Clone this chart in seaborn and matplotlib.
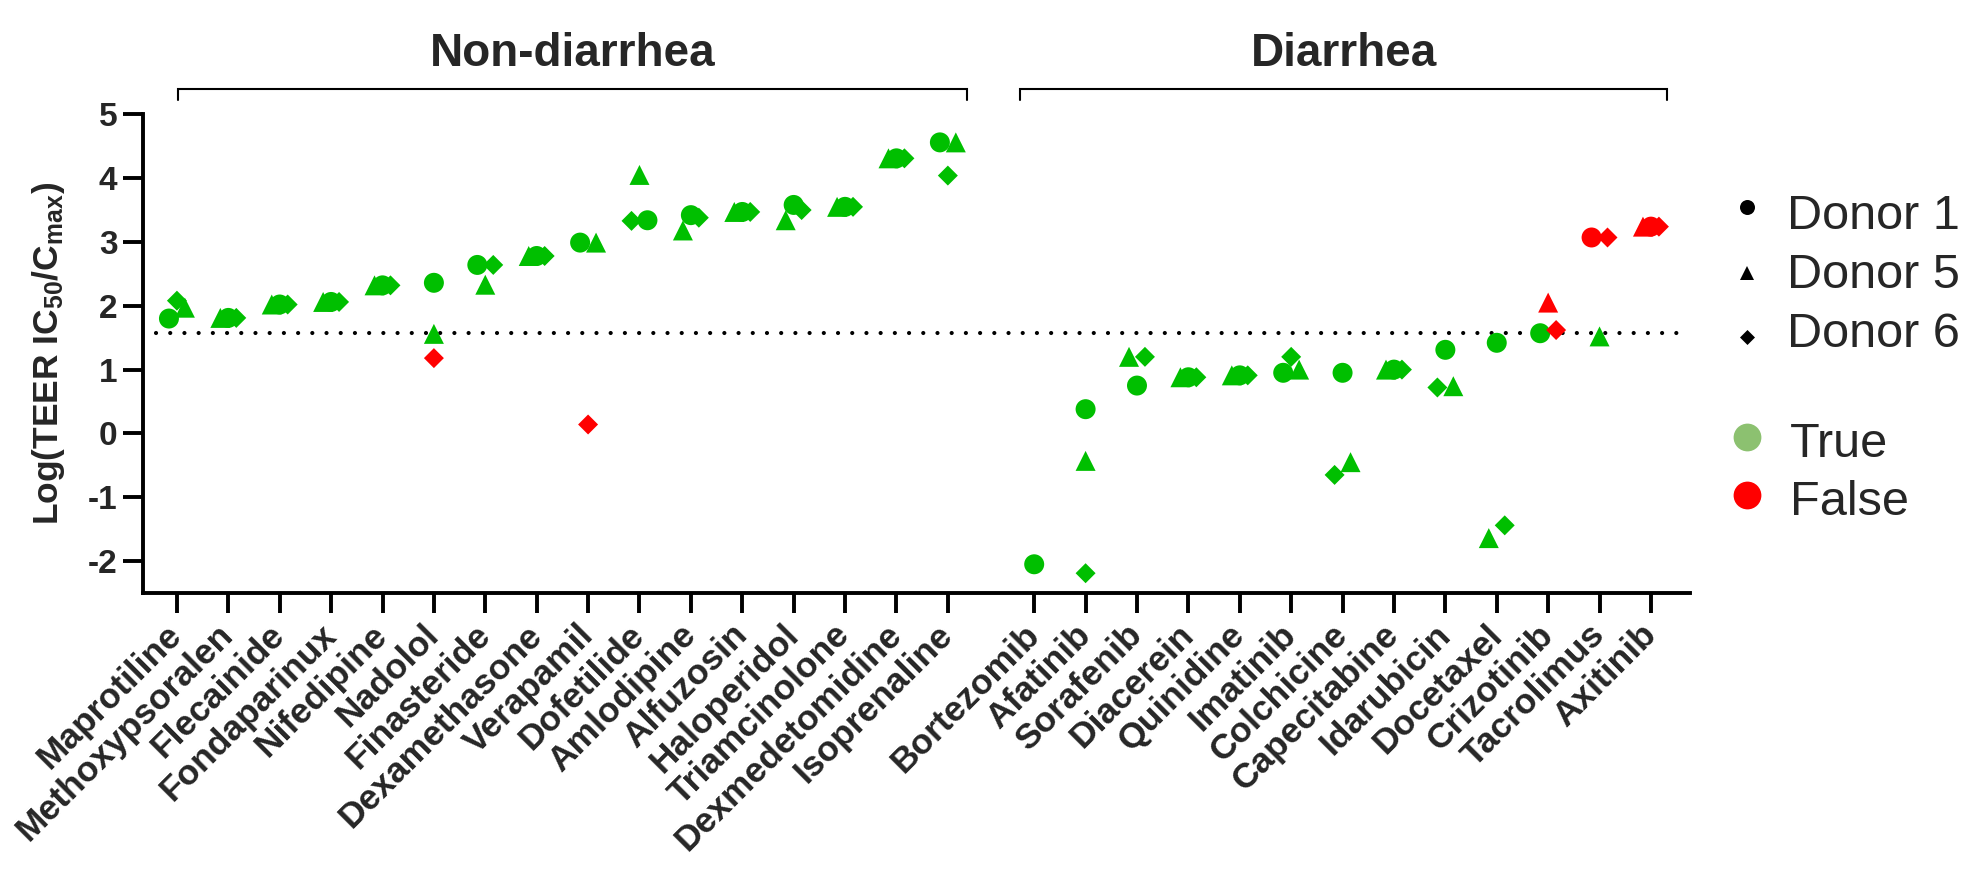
import numpy as np
import pandas as pd
import matplotlib
matplotlib.use("Agg")
import matplotlib.pyplot as plt
import matplotlib.transforms as mtransforms
from matplotlib.path import Path
from matplotlib.lines import Line2D
import seaborn as sns

nan = np.nan

# ---------------- data ----------------
non_diarrhea = ["Maprotiline", "Methoxypsoralen", "Flecainide", "Fondaparinux", "Nifedipine",
                "Nadolol", "Finasteride", "Dexamethasone", "Verapamil", "Dofetilide",
                "Amlodipine", "Alfuzosin", "Haloperidol", "Triamcinolone", "Dexmedetomidine",
                "Isoprenaline"]
diarrhea = ["Bortezomib", "Afatinib", "Sorafenib", "Diacerein", "Quinidine", "Imatinib",
            "Colchicine", "Capecitabine", "Idarubicin", "Docetaxel", "Crizotinib",
            "Tacrolimus", "Axitinib"]

donor1 = [1.80, 1.81, 2.02, 2.06, 2.32, 2.36, 2.64, 2.78, 2.99, 3.34, 3.42, 3.47, 3.58, 3.55, 4.31, 4.56,
          -2.05, 0.38, 0.75, 0.88, 0.91, 0.95, 0.95, 1.00, 1.31, 1.42, 1.57, 3.07, 3.24]
donor5 = [1.97, 1.81, 2.02, 2.06, 2.32, 1.56, 2.33, 2.78, 2.99, 4.05, 3.18, 3.47, 3.34, 3.55, 4.31, 4.56,
          nan, -0.43, 1.20, 0.88, 0.91, 1.00, -0.45, 1.00, 0.74, -1.64, 2.05, 1.52, 3.24]
donor6 = [2.08, 1.81, 2.02, 2.06, 2.32, 1.18, 2.64, 2.78, 0.14, 3.33, 3.38, 3.47, 3.50, 3.55, 4.31, 4.04,
          nan, -2.19, 1.20, 0.88, 0.91, 1.20, -0.65, 1.00, 0.72, -1.44, 1.62, 3.07, 3.24]

# drugs whose value for a donor is classified "False" (red)
false_donor1 = ["Tacrolimus", "Axitinib"]
false_donor5 = ["Crizotinib", "Axitinib"]
false_donor6 = ["Nadolol", "Verapamil", "Crizotinib", "Tacrolimus", "Axitinib"]

threshold = 1.57
y_ticks = [-2, -1, 0, 1, 2, 3, 4, 5]
group_titles = ["Non-diarrhea", "Diarrhea"]
donor_names = ["Donor 1", "Donor 5", "Donor 6"]
result_names = ["True", "False"]

# ---------------- styling ----------------
GREEN = "#00BF00"
RED = "#FF0000"
LEGEND_TRUE = "#8CC170"
W, H = 1978, 893

sns.set_style("ticks")
plt.rcParams["font.family"] = ["Liberation Sans", "DejaVu Sans"]
plt.rcParams["mathtext.fontset"] = "custom"
plt.rcParams["mathtext.rm"] = "Liberation Sans:bold"
plt.rcParams["mathtext.it"] = "Liberation Sans:bold"
plt.rcParams["mathtext.bf"] = "Liberation Sans:bold"

# ---------------- long-form table ----------------
drugs = non_diarrhea + diarrhea
groups = ["Non-diarrhea"] * len(non_diarrhea) + ["Diarrhea"] * len(diarrhea)
group_gap = 0.68
base_pos = list(range(len(non_diarrhea))) + \
    [len(non_diarrhea) + group_gap + j for j in range(len(diarrhea))]

values = {"Donor 1": donor1, "Donor 5": donor5, "Donor 6": donor6}
falses = {"Donor 1": false_donor1, "Donor 5": false_donor5, "Donor 6": false_donor6}


def dodge(vals, thr=0.3, d=0.155):
    """Spread points that overlap vertically (GraphPad-like scatter)."""
    items = sorted([(v, k) for k, v in vals.items() if not np.isnan(v)])
    offs = {}
    clusters, cur = [], []
    for v, k in items:
        if cur and v - cur[-1][0] >= thr:
            clusters.append(cur)
            cur = []
        cur.append((v, k))
    if cur:
        clusters.append(cur)
    for cl in clusters:
        if len(cl) == 1:
            offs[cl[0][1]] = 0.0
        elif len(cl) == 2:
            keys = [k for _, k in sorted(cl, key=lambda t: (t[0], donor_names.index(t[1])))]
            offs[keys[0]], offs[keys[1]] = -d, d
        else:
            cyc = ["Donor 5", "Donor 1", "Donor 6"]
            first = sorted(cl, key=lambda t: (t[0], cyc.index(t[1])))[0][1]
            s = cyc.index(first)
            keys = cyc[s:] + cyc[:s]
            for k, o in zip(keys, [-d, 0.0, d]):
                offs[k] = o
    return offs


rows = []
for i, drug in enumerate(drugs):
    vals = {dn: values[dn][i] for dn in donor_names}
    offs = dodge(vals)
    for dn in donor_names:
        v = vals[dn]
        if np.isnan(v):
            continue
        rows.append({"Drug": drug, "Group": groups[i], "Donor": dn, "Value": v,
                     "Result": "False" if drug in falses[dn] else "True",
                     "x": base_pos[i] + offs[dn]})
df = pd.DataFrame(rows)

# ---------------- figure ----------------
fig = plt.figure(figsize=(W / 100, H / 100), dpi=100)
ax_left, ax_right, ax_top, ax_bot = 143, 1690, 114.3, 593
ax = fig.add_axes([ax_left / W, 1 - ax_bot / H, (ax_right - ax_left) / W, (ax_bot - ax_top) / H])

diamond = Path([(0, 1), (1, 0), (0, -1), (-1, 0), (0, 1)],
               [Path.MOVETO, Path.LINETO, Path.LINETO, Path.LINETO, Path.CLOSEPOLY])
markers = {"Donor 1": "o", "Donor 5": "^", "Donor 6": diamond}

ax.axhline(threshold, xmin=0.0084, xmax=0.9935, color="black", lw=3.0,
           ls=(0, (0.01, 3.4)), dash_capstyle="round", zorder=1)

sns.scatterplot(data=df, x="x", y="Value", hue="Result", hue_order=result_names,
                palette={"True": GREEN, "False": RED}, style="Donor", style_order=donor_names,
                markers=markers, s=207, linewidth=0, legend=False, ax=ax, zorder=3)

ax.set_xlim(base_pos[0] - 0.66, base_pos[-1] + 0.76)
ax.set_ylim(-2.5, 5)
ax.set_yticks(y_ticks)
ax.set_yticklabels([str(t) for t in y_ticks], fontsize=24, fontweight="bold")
ax.set_xticks(base_pos)
ax.set_xticklabels(drugs, rotation=45, ha="right", va="center", rotation_mode="anchor",
                   fontsize=25.5, fontweight="bold")
ax.tick_params(axis="both", length=14.4, width=2.8, color="black")
ax.tick_params(axis="y", pad=4)
ax.tick_params(axis="x", pad=12)
ax.set_xlabel("")
ax.set_ylabel(r"Log(TEER IC$_{50}$/C$_{max}$)", fontsize=25.5, fontweight="bold", va="center")
ax.yaxis.set_label_coords((49 - ax_left) / (ax_right - ax_left), 0.5)
for side in ["top", "right"]:
    ax.spines[side].set_visible(False)
for side in ["left", "bottom"]:
    ax.spines[side].set_linewidth(2.8)
    ax.spines[side].set_color("black")

# group brackets and titles
trans = mtransforms.blended_transform_factory(ax.transData, ax.transAxes)
ax_h = ax_bot - ax_top
y_br = 1 + (ax_top - 89) / ax_h
y_br_tick = 1 + (ax_top - 100) / ax_h
y_title = 1 + (ax_top - 66) / ax_h
bracket_pad = {"Non-diarrhea": (0.03, 0.38), "Diarrhea": (-0.27, 0.32)}
for g in group_titles:
    pos = [p for p, gg in zip(base_pos, groups) if gg == g]
    x0 = pos[0] + bracket_pad[g][0]
    x1 = pos[-1] + bracket_pad[g][1]
    ax.plot([x0, x0, x1, x1], [y_br_tick, y_br, y_br, y_br_tick], transform=trans,
            color="black", lw=1.5, clip_on=False, solid_joinstyle="miter")
    ax.text((x0 + x1) / 2, y_title, g, transform=trans, ha="center", va="baseline",
            fontsize=33, fontweight="bold")

# legend (drawn manually in figure coordinates)
def fx(px):
    return px / W


def fy(py):
    return 1 - py / H


legend_markers = ["o", "^", diamond]
donor_marker_y = [207, 273, 337]
donor_text_base = [229, 288.5, 347]
donor_msize = [10.8, 10.4, 10.8]
for name, mk, my, ty, ms in zip(donor_names, legend_markers, donor_marker_y,
                                donor_text_base, donor_msize):
    fig.add_artist(Line2D([fx(1747)], [fy(my)], transform=fig.transFigure, marker=mk,
                          markersize=ms, color="black", linestyle="none", markeredgewidth=0))
    fig.text(fx(1787), fy(ty), name, fontsize=35, ha="left", va="baseline")

res_marker_y = [437, 495]
res_text_base = [457, 515]
for name, col, my, ty in zip(result_names, [LEGEND_TRUE, RED], res_marker_y, res_text_base):
    fig.add_artist(Line2D([fx(1747)], [fy(my)], transform=fig.transFigure, marker="o",
                          markersize=20, color=col, linestyle="none", markeredgewidth=0))
    fig.text(fx(1790), fy(ty), name, fontsize=35, ha="left", va="baseline")

fig.savefig("out.png", dpi=100)
